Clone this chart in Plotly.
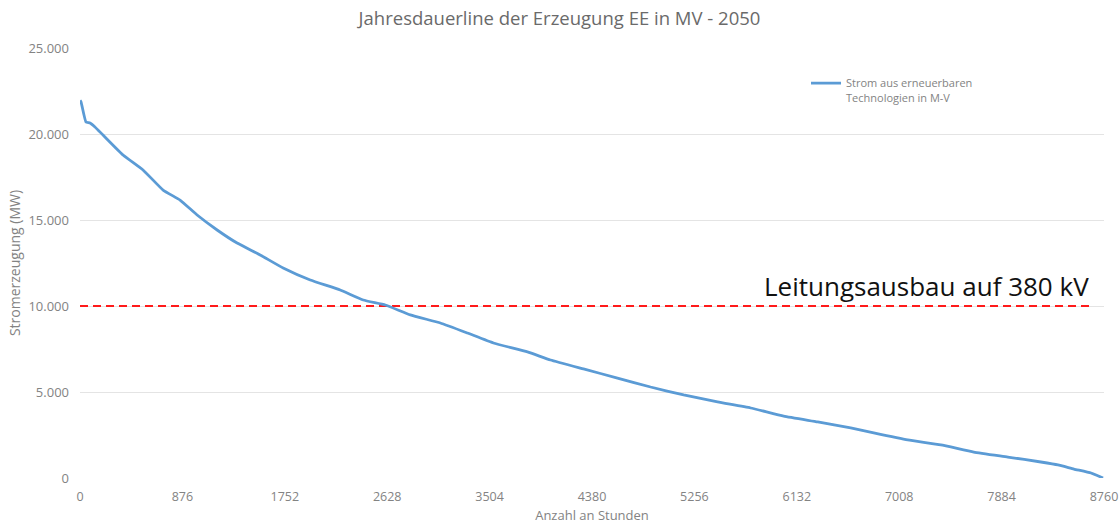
import plotly.graph_objects as go

# Sorted annual duration curve of renewable generation (hours vs. MW)
hours = [0, 9, 51, 86, 128, 197, 368, 539, 711, 856, 1002, 1173, 1344, 1541, 1738,
         1970, 2226, 2423, 2612, 2826, 3083, 3314, 3537, 3828, 4025, 4307, 4598,
         4881, 5164, 5454, 5737, 6020, 6311, 6593, 6790, 7081, 7364, 7646, 7937,
         8220, 8366, 8503, 8649, 8752]
generation_mw = [21950, 21860, 20700, 20640, 20410, 19940, 18780, 17910, 16740, 16160,
                 15290, 14420, 13660, 12970, 12210, 11510, 10930, 10350, 10060, 9480,
                 9010, 8430, 7850, 7330, 6860, 6340, 5810, 5290, 4830, 4420, 4070,
                 3600, 3260, 2910, 2620, 2210, 1920, 1510, 1220, 930, 760, 520, 290, 0]

# 380 kV grid expansion threshold
threshold_mw = 10000
threshold_hours = [0, 8649]

x_ticks = [0, 876, 1752, 2628, 3504, 4380, 5256, 6132, 7008, 7884, 8760]
y_ticks = [0, 5000, 10000, 15000, 20000, 25000]

series_name = "Strom aus erneuerbaren<br>Technologien in M-V"
threshold_label = "Leitungsausbau auf 380 kV"

font_family = "Open Sans, Lato, sans-serif"
grey = "#838383"

fig = go.Figure()

fig.add_trace(go.Scatter(
    x=threshold_hours, y=[threshold_mw] * len(threshold_hours),
    mode="lines", line=dict(color="#ff1a1a", width=2.2, dash="8px,5px"),
    showlegend=False, hoverinfo="skip",
))

fig.add_trace(go.Scatter(
    x=hours, y=generation_mw, mode="lines", name=series_name,
    line=dict(color="#5b9bd5", width=2.8, shape="spline", smoothing=0.4),
))

fig.add_annotation(
    x=threshold_hours[-1], y=threshold_mw, xref="x", yref="y",
    text=threshold_label, showarrow=False,
    xanchor="right", yanchor="bottom", yshift=0,
    font=dict(family=font_family, size=26, color="#111111"),
)

fig.update_layout(
    width=1119, height=524,
    margin=dict(l=80, r=15, t=48, b=46),
    paper_bgcolor="white", plot_bgcolor="white",
    separators=",.",
    font=dict(family=font_family, color=grey),
    title=dict(
        text="Jahresdauerline der Erzeugung EE in MV - 2050",
        x=0.5, xanchor="center", y=0.965, yanchor="middle",
        font=dict(family=font_family, size=18.5, color="#6a6a6a"),
    ),
    xaxis=dict(
        range=[0, 8760], tickvals=x_ticks, ticktext=[str(v) for v in x_ticks],
        showgrid=False, zeroline=False, showline=False, automargin=False,
        tickfont=dict(size=12.5, color=grey), ticklabelstandoff=9,
        title=dict(text="Anzahl an Stunden", font=dict(size=13, color=grey), standoff=10),
    ),
    yaxis=dict(
        range=[0, 25000], tickvals=y_ticks, tickformat=",.0f",
        showgrid=True, gridcolor="#e4e4e4", gridwidth=1, zeroline=False, showline=False,
        automargin=False,
        tickfont=dict(size=13, color=grey), ticklabelstandoff=10,
        title=dict(text="Stromerzeugung (MW)", font=dict(size=14, color=grey), standoff=4),
    ),
    legend=dict(
        x=0.709, y=0.95, xanchor="left", yanchor="top", valign="top",
        bgcolor="rgba(0,0,0,0)", font=dict(size=11, color=grey),
        itemwidth=30, tracegroupgap=0,
    ),
    showlegend=True,
)

fig.write_html("out.html")
